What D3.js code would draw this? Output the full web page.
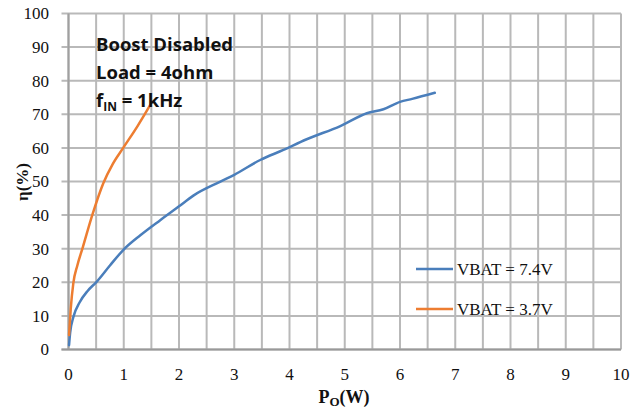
<!DOCTYPE html>
<html>
<head>
<meta charset="utf-8">
<script src="https://cdn.jsdelivr.net/npm/d3@7"></script>
<style>
  body { margin: 0; background: #fff; }
  svg { display: block; }
</style>
</head>
<body>
<div id="chart"></div>
<script>
// Efficiency vs output power
const vbat74 = [
  [0.01, 1.3], [0.03, 5], [0.09, 9.8], [0.2, 14], [0.35, 17.5], [0.5, 20],
  [0.75, 25], [0.99, 29.6], [1.3, 34], [1.66, 38.5], [2.0, 42.6],
  [2.26, 45.8], [2.74, 49.9], [3.0, 52], [3.47, 56.4], [3.89, 59.4], [4.3, 62.5],
  [4.92, 66.5], [5.4, 70.3], [5.7, 71.5], [6.0, 73.7], [6.22, 74.6], [6.63, 76.4]
];
const vbat37 = [
  [0.01, 4.3], [0.04, 12], [0.087, 19.7], [0.16, 25], [0.26, 30.5], [0.43, 40],
  [0.63, 49.5], [0.8, 55.2], [0.99, 60], [1.25, 66.5], [1.48, 72.8]
];
const series = [
  { name: "VBAT = 7.4V", data: vbat74, color: "#4a7ebb" },
  { name: "VBAT = 3.7V", data: vbat37, color: "#ed7d31" }
];
const xTicks = d3.range(0, 11, 1);
const xGrid = d3.range(0, 10.5, 0.5);
const yTicks = d3.range(0, 101, 10);
const notes = ["Boost Disabled", "Load = 4ohm"];

const width = 644, height = 414;
const margin = { top: 13.5, right: 23, bottom: 64.5, left: 68.5 };

const svg = d3.select('#chart')
  .append('svg')
  .attr('width', width)
  .attr('height', height);

const x = d3.scaleLinear().domain([0, 10]).range([margin.left, width - margin.right]);
const y = d3.scaleLinear().domain([0, 100]).range([height - margin.bottom, margin.top]);

const grid = svg.append('g')
  .attr('stroke', '#b9b9b9')
  .attr('stroke-width', 2);

// vertical grid every 0.5 W
grid.selectAll('line.v')
  .data(xGrid)
  .join('line')
  .attr('x1', d => x(d)).attr('x2', d => x(d))
  .attr('y1', y(0)).attr('y2', y(100));

// horizontal grid + left tick marks
grid.selectAll('line.h')
  .data(yTicks)
  .join('line')
  .attr('x1', x(0) - 7).attr('x2', x(10))
  .attr('y1', d => y(d)).attr('y2', d => y(d));

// axis lines slightly darker
svg.append('line')
  .attr('x1', x(0)).attr('x2', x(0))
  .attr('y1', y(0)).attr('y2', y(100))
  .attr('stroke', '#a0a0a0').attr('stroke-width', 2);
svg.append('line')
  .attr('x1', x(0) - 7).attr('x2', x(10))
  .attr('y1', y(0)).attr('y2', y(0))
  .attr('stroke', '#999').attr('stroke-width', 2);

const serif = '"Liberation Serif", "DejaVu Serif", serif';

// tick labels
svg.append('g')
  .selectAll('text')
  .data(yTicks)
  .join('text')
  .attr('x', 49)
  .attr('y', d => y(d))
  .attr('dy', '0.35em')
  .attr('text-anchor', 'end')
  .attr('font-family', serif)
  .attr('font-size', 17)
  .attr('fill', '#111')
  .text(d => d);

svg.append('g')
  .selectAll('text')
  .data(xTicks)
  .join('text')
  .attr('x', d => x(d))
  .attr('y', 380)
  .attr('text-anchor', 'middle')
  .attr('font-family', serif)
  .attr('font-size', 17)
  .attr('fill', '#111')
  .text(d => d);

// curves
const line = d3.line()
  .x(d => x(d[0]))
  .y(d => y(d[1]))
  .curve(d3.curveMonotoneX);

svg.append('g')
  .selectAll('path')
  .data(series)
  .join('path')
  .attr('d', d => line(d.data))
  .attr('fill', 'none')
  .attr('stroke', d => d.color)
  .attr('stroke-width', 2.5)
  .attr('stroke-linejoin', 'round')
  .attr('stroke-linecap', 'round');

// annotation block
const sans = '"Open Sans", "Noto Sans", sans-serif';
const note = svg.append('text')
  .attr('font-family', sans)
  .attr('font-weight', 'bold')
  .attr('font-size', 18.5)
  .attr('fill', '#111');
notes.forEach((t, i) => {
  note.append('tspan').attr('x', 96).attr('y', 51 + i * 28).text(t);
});
const fin = note.append('tspan').attr('x', 96).attr('y', 107);
fin.append('tspan').text('f');
fin.append('tspan').attr('font-size', 12).attr('dy', 4).text('IN');
fin.append('tspan').attr('dy', -4).text(' = 1kHz');

// legend
const legend = svg.append('g')
  .selectAll('g')
  .data(series)
  .join('g')
  .attr('transform', (d, i) => `translate(416,${269 + i * 40})`);
legend.append('line')
  .attr('x1', 0).attr('x2', 37)
  .attr('stroke', d => d.color)
  .attr('stroke-width', 2.5);
legend.append('text')
  .attr('x', 41)
  .attr('dy', '0.35em')
  .attr('font-family', serif)
  .attr('font-size', 17)
  .attr('fill', '#111')
  .text(d => d.name);

// axis titles
const xt = svg.append('text')
  .attr('x', 344)
  .attr('y', 403)
  .attr('text-anchor', 'middle')
  .attr('font-family', serif)
  .attr('font-weight', 'bold')
  .attr('font-size', 18)
  .attr('fill', '#111');
xt.append('tspan').text('P');
xt.append('tspan').attr('font-size', 13).attr('dy', 3).text('O');
xt.append('tspan').attr('dy', -3).text('(W)');

svg.append('text')
  .attr('transform', 'translate(28,182) rotate(-90)')
  .attr('text-anchor', 'middle')
  .attr('font-family', serif)
  .attr('font-weight', 'bold')
  .attr('font-size', 17)
  .attr('fill', '#111')
  .text('η(%)');
</script>
</body>
</html>
